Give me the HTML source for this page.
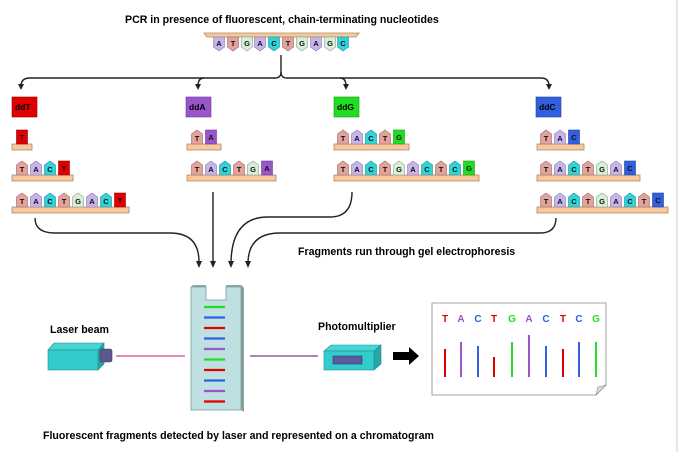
<!DOCTYPE html>
<html><head><meta charset="utf-8"><style>
html,body{margin:0;padding:0;background:#fff;}
svg{display:block;font-family:"Liberation Sans",Arial,sans-serif;}
.n text{font-size:7.5px;font-weight:bold;text-anchor:middle;fill:#111;}
.lbl{font-size:10.6px;font-weight:bold;fill:#000;}
.bar{fill:#f7c89b;stroke:#b08a6a;stroke-width:0.8;}
.T{fill:#e3a39d;stroke:#9a6a66;stroke-width:.6}
.A{fill:#c7b4ea;stroke:#8a7aa8;stroke-width:.6}
.C{fill:#2fd3da;stroke:#2a9096;stroke-width:.6}
.G{fill:#d9eed9;stroke:#88a088;stroke-width:.6}
.tT{fill:#e00000;stroke:#900;stroke-width:.6}
.tA{fill:#9b55cc;stroke:#6a3a90;stroke-width:.6}
.tG{fill:#22dd22;stroke:#189a18;stroke-width:.6}
.tC{fill:#3060e0;stroke:#2040a0;stroke-width:.6}
.ln{fill:none;stroke:#222;stroke-width:1.4;}
</style></head><body>
<svg width="678" height="452" viewBox="0 0 678 452" xmlns="http://www.w3.org/2000/svg">
<defs>
<path id="up" d="M-5.5,14V4L0,0L5.5,4V14Z"/>
<path id="dn" d="M-5.5,0V10L0,14L5.5,10V0Z"/>
</defs>
<rect x="676" y="0" width="2" height="452" fill="#e6e6e6"/>
<text class="lbl" x="125" y="23">PCR in presence of fluorescent, chain-terminating nucleotides</text>

<path d="M204,33H359L356,37H207Z" class="bar"/>
<g class="n">
<g transform="translate(219,37)"><use href="#dn" class="A"/><text y="9">A</text></g>
<g transform="translate(233,37)"><use href="#dn" class="T"/><text y="9">T</text></g>
<g transform="translate(247,37)"><use href="#dn" class="G"/><text y="9">G</text></g>
<g transform="translate(260,37)"><use href="#dn" class="A"/><text y="9">A</text></g>
<g transform="translate(274,37)"><use href="#dn" class="C"/><text y="9">C</text></g>
<g transform="translate(288,37)"><use href="#dn" class="T"/><text y="9">T</text></g>
<g transform="translate(302,37)"><use href="#dn" class="G"/><text y="9">G</text></g>
<g transform="translate(316,37)"><use href="#dn" class="A"/><text y="9">A</text></g>
<g transform="translate(330,37)"><use href="#dn" class="G"/><text y="9">G</text></g>
<g transform="translate(343,37)"><use href="#dn" class="C"/><text y="9">C</text></g>
</g>

<path class="ln" d="M281,55V72Q281,78 275,78H30Q21,78 21,86"/>
<path class="ln" d="M281,72Q281,78 287,78H541Q549,78 549,86"/>
<path class="ln" d="M204,78Q198,78 198,86"/>
<path class="ln" d="M340,78Q346,78 346,86"/>
<path d="M18,84L24,84L21,90Z M195,84L201,84L198,90Z M343,84L349,84L346,90Z M546,84L552,84L549,90Z" fill="#222"/>

<rect x="12" y="97" width="25" height="20" fill="#e00000" stroke="#900" stroke-width=".6"/>
<text class="lbl" x="15" y="110" style="font-size:8.5px">ddT</text>
<rect x="186" y="97" width="25" height="20" fill="#9b55cc" stroke="#6a3a90" stroke-width=".6"/>
<text class="lbl" x="189" y="110" style="font-size:8.5px">ddA</text>
<rect x="334" y="97" width="25" height="20" fill="#22dd22" stroke="#189a18" stroke-width=".6"/>
<text class="lbl" x="337" y="110" style="font-size:8.5px">ddG</text>
<rect x="536" y="97" width="25" height="20" fill="#3060e0" stroke="#2040a0" stroke-width=".6"/>
<text class="lbl" x="539" y="110" style="font-size:8.5px">ddC</text>

<g class="n">
<rect class="bar" x="12" y="144" width="20" height="6"/>
<g transform="translate(22,130)"><rect x="-5.5" width="11" height="14" class="tT"/><text y="10">T</text></g>
<rect class="bar" x="12" y="175" width="61" height="6"/>
<g transform="translate(22,161)"><use href="#up" class="T"/><text y="11">T</text></g>
<g transform="translate(36,161)"><use href="#up" class="A"/><text y="11">A</text></g>
<g transform="translate(50,161)"><use href="#up" class="C"/><text y="11">C</text></g>
<g transform="translate(64,161)"><rect x="-5.5" width="11" height="14" class="tT"/><text y="10">T</text></g>
<rect class="bar" x="12" y="207" width="117" height="6"/>
<g transform="translate(22,193)"><use href="#up" class="T"/><text y="11">T</text></g>
<g transform="translate(36,193)"><use href="#up" class="A"/><text y="11">A</text></g>
<g transform="translate(50,193)"><use href="#up" class="C"/><text y="11">C</text></g>
<g transform="translate(64,193)"><use href="#up" class="T"/><text y="11">T</text></g>
<g transform="translate(78,193)"><use href="#up" class="G"/><text y="11">G</text></g>
<g transform="translate(92,193)"><use href="#up" class="A"/><text y="11">A</text></g>
<g transform="translate(106,193)"><use href="#up" class="C"/><text y="11">C</text></g>
<g transform="translate(120,193)"><rect x="-5.5" width="11" height="14" class="tT"/><text y="10">T</text></g>

<rect class="bar" x="187" y="144" width="34" height="6"/>
<g transform="translate(197,130)"><use href="#up" class="T"/><text y="11">T</text></g>
<g transform="translate(211,130)"><rect x="-5.5" width="11" height="14" class="tA"/><text y="10">A</text></g>
<rect class="bar" x="187" y="175" width="89" height="6"/>
<g transform="translate(197,161)"><use href="#up" class="T"/><text y="11">T</text></g>
<g transform="translate(211,161)"><use href="#up" class="A"/><text y="11">A</text></g>
<g transform="translate(225,161)"><use href="#up" class="C"/><text y="11">C</text></g>
<g transform="translate(239,161)"><use href="#up" class="T"/><text y="11">T</text></g>
<g transform="translate(253,161)"><use href="#up" class="G"/><text y="11">G</text></g>
<g transform="translate(267,161)"><rect x="-5.5" width="11" height="14" class="tA"/><text y="10">A</text></g>

<rect class="bar" x="334" y="144" width="75" height="6"/>
<g transform="translate(343,130)"><use href="#up" class="T"/><text y="11">T</text></g>
<g transform="translate(357,130)"><use href="#up" class="A"/><text y="11">A</text></g>
<g transform="translate(371,130)"><use href="#up" class="C"/><text y="11">C</text></g>
<g transform="translate(385,130)"><use href="#up" class="T"/><text y="11">T</text></g>
<g transform="translate(399,130)"><rect x="-5.5" width="11" height="14" class="tG"/><text y="10">G</text></g>
<rect class="bar" x="334" y="175" width="145" height="6"/>
<g transform="translate(343,161)"><use href="#up" class="T"/><text y="11">T</text></g>
<g transform="translate(357,161)"><use href="#up" class="A"/><text y="11">A</text></g>
<g transform="translate(371,161)"><use href="#up" class="C"/><text y="11">C</text></g>
<g transform="translate(385,161)"><use href="#up" class="T"/><text y="11">T</text></g>
<g transform="translate(399,161)"><use href="#up" class="G"/><text y="11">G</text></g>
<g transform="translate(413,161)"><use href="#up" class="A"/><text y="11">A</text></g>
<g transform="translate(427,161)"><use href="#up" class="C"/><text y="11">C</text></g>
<g transform="translate(441,161)"><use href="#up" class="T"/><text y="11">T</text></g>
<g transform="translate(455,161)"><use href="#up" class="C"/><text y="11">C</text></g>
<g transform="translate(469,161)"><rect x="-5.5" width="11" height="14" class="tG"/><text y="10">G</text></g>

<rect class="bar" x="537" y="144" width="47" height="6"/>
<g transform="translate(546,130)"><use href="#up" class="T"/><text y="11">T</text></g>
<g transform="translate(560,130)"><use href="#up" class="A"/><text y="11">A</text></g>
<g transform="translate(574,130)"><rect x="-5.5" width="11" height="14" class="tC"/><text y="10">C</text></g>
<rect class="bar" x="537" y="175" width="103" height="6"/>
<g transform="translate(546,161)"><use href="#up" class="T"/><text y="11">T</text></g>
<g transform="translate(560,161)"><use href="#up" class="A"/><text y="11">A</text></g>
<g transform="translate(574,161)"><use href="#up" class="C"/><text y="11">C</text></g>
<g transform="translate(588,161)"><use href="#up" class="T"/><text y="11">T</text></g>
<g transform="translate(602,161)"><use href="#up" class="G"/><text y="11">G</text></g>
<g transform="translate(616,161)"><use href="#up" class="A"/><text y="11">A</text></g>
<g transform="translate(630,161)"><rect x="-5.5" width="11" height="14" class="tC"/><text y="10">C</text></g>
<rect class="bar" x="537" y="207" width="131" height="6"/>
<g transform="translate(546,193)"><use href="#up" class="T"/><text y="11">T</text></g>
<g transform="translate(560,193)"><use href="#up" class="A"/><text y="11">A</text></g>
<g transform="translate(574,193)"><use href="#up" class="C"/><text y="11">C</text></g>
<g transform="translate(588,193)"><use href="#up" class="T"/><text y="11">T</text></g>
<g transform="translate(602,193)"><use href="#up" class="G"/><text y="11">G</text></g>
<g transform="translate(616,193)"><use href="#up" class="A"/><text y="11">A</text></g>
<g transform="translate(630,193)"><use href="#up" class="C"/><text y="11">C</text></g>
<g transform="translate(644,193)"><use href="#up" class="T"/><text y="11">T</text></g>
<g transform="translate(658,193)"><rect x="-5.5" width="11" height="14" class="tC"/><text y="10">C</text></g>
</g>

<path class="ln" d="M35,218Q35,233 55,233H170Q199,233 199,262"/>
<path class="ln" d="M213,192V262"/>
<path class="ln" d="M352,192Q352,217 330,217H268Q232,217 231,262"/>
<path class="ln" d="M556,218Q556,233 540,233H280Q249,233 248,262"/>
<path d="M196,261L202,261L199,268Z M210,261L216,261L213,268Z M228,261L234,261L231,268Z M245,261L251,261L248,268Z" fill="#222"/>
<text class="lbl" x="298" y="255">Fragments run through gel electrophoresis</text>

<path d="M191,287L193,285H206V287Z M226,285H241L243,287H226Z" fill="#8aa"/>
<path d="M241,285L244,288V412L241,410Z" fill="#8aa0a0"/>
<path d="M191,287H206V300H226V287H241V410H191Z" fill="#bfe0e0" stroke="#7a9999" stroke-width=".8"/>
<g stroke-width="2.2">
<line x1="204" x2="225" y1="307" y2="307" stroke="#22dd22"/>
<line x1="204" x2="225" y1="317.5" y2="317.5" stroke="#3060e0"/>
<line x1="204" x2="225" y1="328" y2="328" stroke="#e00000"/>
<line x1="204" x2="225" y1="338.5" y2="338.5" stroke="#3060e0"/>
<line x1="204" x2="225" y1="349" y2="349" stroke="#9b55cc"/>
<line x1="204" x2="225" y1="359.5" y2="359.5" stroke="#22dd22"/>
<line x1="204" x2="225" y1="370" y2="370" stroke="#e00000"/>
<line x1="204" x2="225" y1="380.5" y2="380.5" stroke="#3060e0"/>
<line x1="204" x2="225" y1="391" y2="391" stroke="#9b55cc"/>
<line x1="204" x2="225" y1="401.5" y2="401.5" stroke="#e00000"/>
</g>

<text class="lbl" x="50" y="333">Laser beam</text>
<path d="M48,350L54,343H104L98,350Z" fill="#45d6d6" stroke="#2a8a8a" stroke-width=".6"/>
<path d="M98,350L104,343V364L98,370Z" fill="#27a8a8" stroke="#2a8a8a" stroke-width=".6"/>
<rect x="48" y="350" width="50" height="20" fill="#33cccc" stroke="#2a8a8a" stroke-width=".6"/>
<rect x="100" y="349" width="12" height="13" rx="2" fill="#5a5a8e" stroke="#3a3a60" stroke-width=".6"/>
<line x1="116" x2="185" y1="356" y2="356" stroke="#e060a0" stroke-width="1.6"/>
<line x1="250" x2="318" y1="356" y2="356" stroke="#9a5aa0" stroke-width="1.6"/>

<text class="lbl" x="318" y="330">Photomultiplier</text>
<path d="M324,351L331,345H381L374,351Z" fill="#45d6d6" stroke="#2a8a8a" stroke-width=".6"/>
<path d="M374,351L381,345V364L374,370Z" fill="#27a8a8" stroke="#2a8a8a" stroke-width=".6"/>
<rect x="324" y="351" width="50" height="19" fill="#33cccc" stroke="#2a8a8a" stroke-width=".6"/>
<rect x="333" y="356" width="29" height="8" fill="#5a5a9e" stroke="#3a3a70" stroke-width=".6"/>
<path d="M393,352H409V347L419,356L409,365V360H393Z" fill="#000"/>

<path d="M432,303H606V385L596,395H432Z" fill="#fff" stroke="#888" stroke-width=".8"/>
<path d="M606,385L596,395L598,387Z" fill="#ddd" stroke="#888" stroke-width=".6"/>
<g font-size="10" font-weight="bold" text-anchor="middle">
<text x="445" y="322" fill="#e00000">T</text>
<text x="461" y="322" fill="#9b55cc">A</text>
<text x="478" y="322" fill="#3060e0">C</text>
<text x="494" y="322" fill="#e00000">T</text>
<text x="512" y="322" fill="#22dd22">G</text>
<text x="529" y="322" fill="#9b55cc">A</text>
<text x="546" y="322" fill="#3060e0">C</text>
<text x="563" y="322" fill="#e00000">T</text>
<text x="579" y="322" fill="#3060e0">C</text>
<text x="596" y="322" fill="#22dd22">G</text>
</g>
<g stroke-width="2">
<line x1="445" x2="445" y1="349" y2="377" stroke="#e00000"/>
<line x1="461" x2="461" y1="342" y2="377" stroke="#9b55cc"/>
<line x1="478" x2="478" y1="346" y2="377" stroke="#3060e0"/>
<line x1="494" x2="494" y1="357" y2="377" stroke="#e00000"/>
<line x1="512" x2="512" y1="342" y2="377" stroke="#22dd22"/>
<line x1="529" x2="529" y1="335" y2="377" stroke="#9b55cc"/>
<line x1="546" x2="546" y1="346" y2="377" stroke="#3060e0"/>
<line x1="563" x2="563" y1="349" y2="377" stroke="#e00000"/>
<line x1="579" x2="579" y1="342" y2="377" stroke="#3060e0"/>
<line x1="596" x2="596" y1="342" y2="377" stroke="#22dd22"/>
</g>

<text class="lbl" x="43" y="439">Fluorescent fragments detected by laser and represented on a chromatogram</text>
</svg>
</body></html>
